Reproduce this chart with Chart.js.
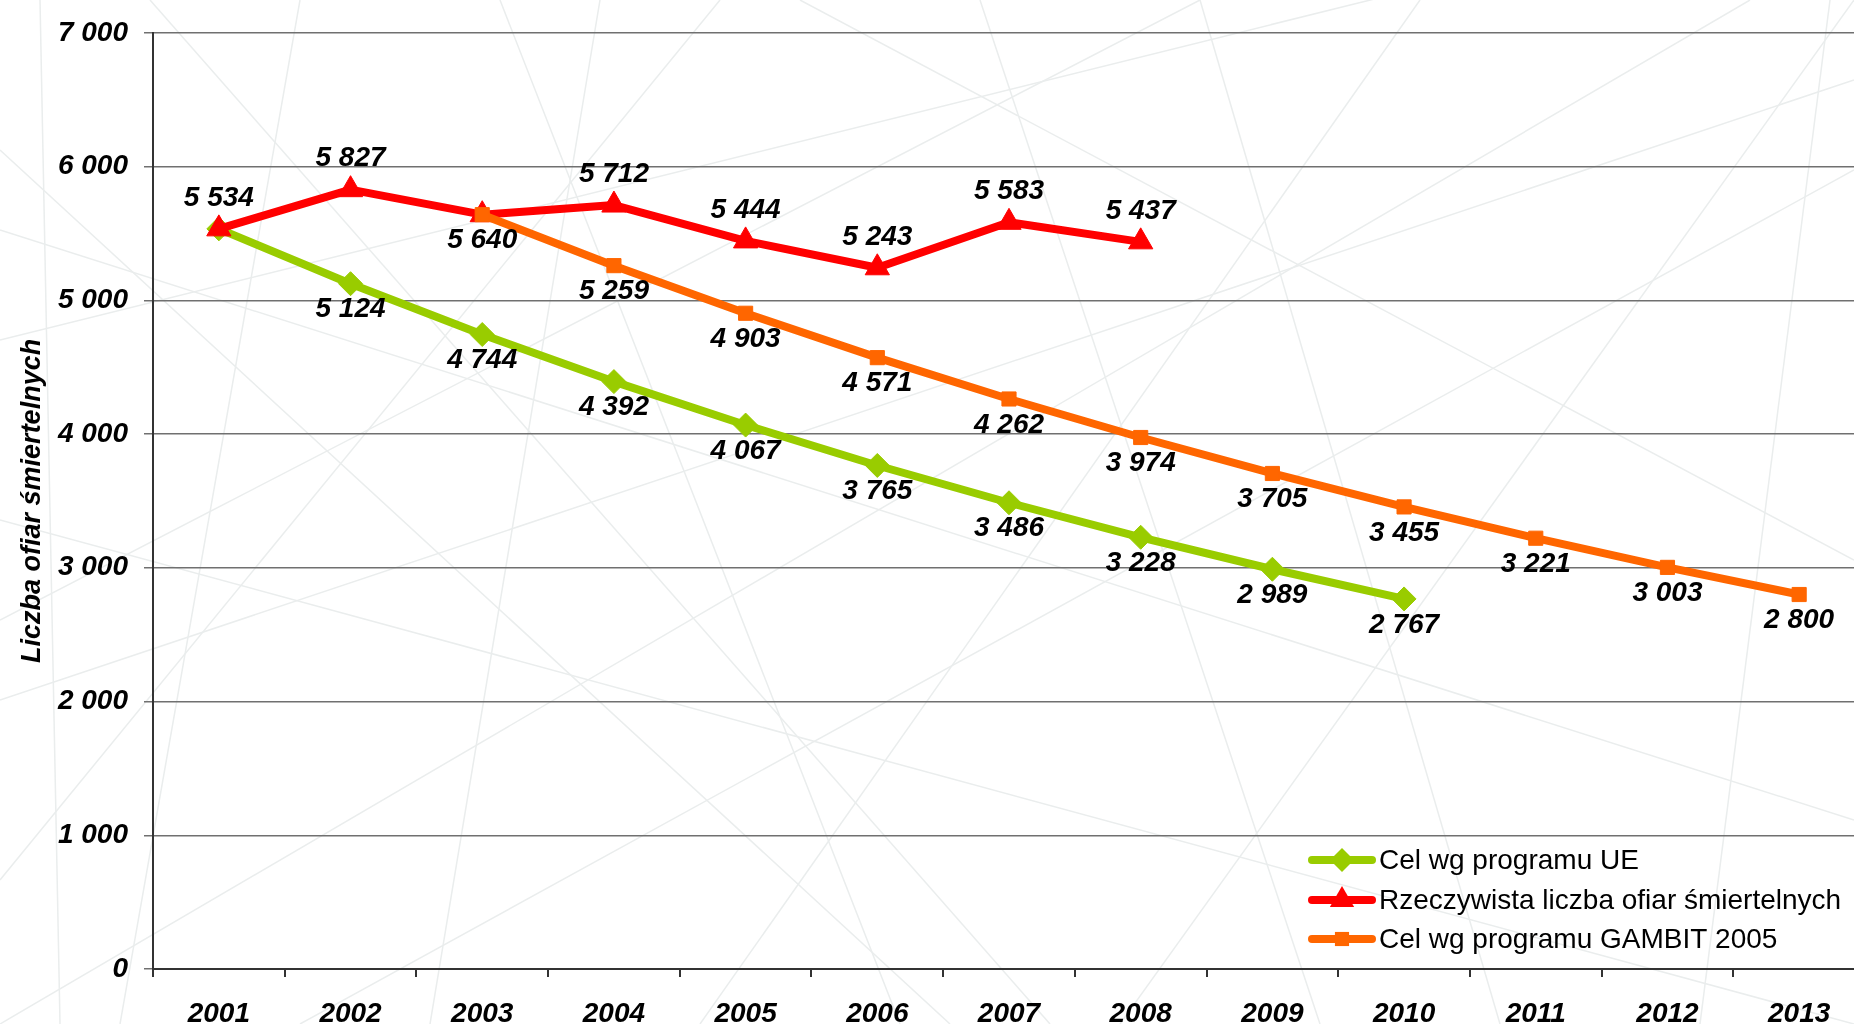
<!DOCTYPE html>
<html><head><meta charset="utf-8">
<script src="https://cdn.jsdelivr.net/npm/chart.js@4.4.0/dist/chart.umd.min.js"></script>
<style>
html,body{margin:0;padding:0;overflow:hidden;background:#fff;width:1854px;height:1024px;}
#wrap{position:relative;width:1880px;height:1024px;}
#bg{position:absolute;left:0;top:0;}
#c{position:absolute;left:0;top:0;}
</style></head><body>
<div id="wrap">
<svg id="bg" width="1854" height="1024" xmlns="http://www.w3.org/2000/svg">
<g stroke="#eaeded" stroke-width="1.5" fill="none">
<line x1="0" y1="340" x2="1854" y2="-120"/>
<line x1="0" y1="700" x2="1854" y2="80"/>
<line x1="0" y1="1024" x2="1750" y2="0"/>
<line x1="300" y1="1024" x2="1854" y2="170"/>
<line x1="0" y1="150" x2="950" y2="1024"/>
<line x1="150" y1="0" x2="1050" y2="1024"/>
<line x1="600" y1="0" x2="430" y2="1024"/>
<line x1="980" y1="0" x2="1320" y2="1024"/>
<line x1="1420" y1="0" x2="700" y2="1024"/>
<line x1="1854" y1="0" x2="1120" y2="1024"/>
<line x1="1830" y1="0" x2="1700" y2="1024"/>
<line x1="0" y1="520" x2="1854" y2="1024"/>
<line x1="0" y1="880" x2="720" y2="0"/>
<line x1="40" y1="0" x2="60" y2="1024"/>
<line x1="300" y1="0" x2="120" y2="1024"/>
<line x1="0" y1="230" x2="1854" y2="820"/>
<line x1="800" y1="0" x2="1854" y2="560"/>
<line x1="1200" y1="0" x2="1500" y2="1024"/>
<line x1="500" y1="0" x2="900" y2="1024"/>
<line x1="0" y1="620" x2="1200" y2="0"/>
</g>
</svg>
<canvas id="c" width="1880" height="1024"></canvas>
</div>
<script>
const years = ['2001','2002','2003','2004','2005','2006','2007','2008','2009','2010','2011','2012','2013'];
const celUE = [5534, 5124, 4744, 4392, 4067, 3765, 3486, 3228, 2989, 2767, null, null, null];
const rzeczywista = [5534, 5827, 5640, 5712, 5444, 5243, 5583, 5437, null, null, null, null, null];
const gambit = [null, null, 5640, 5259, 4903, 4571, 4262, 3974, 3705, 3455, 3221, 3003, 2800];
const seriesNames = ['Cel wg programu UE', 'Rzeczywista liczba ofiar śmiertelnych', 'Cel wg programu GAMBIT 2005'];
const yMin = 0, yMax = 7000, yStep = 1000;

const GREEN = '#99cc00', RED = '#ff0000', ORANGE = '#ff6600';
const FAM = '"Liberation Sans", Arial, sans-serif';
const BOLDIT = 'italic bold 28px ' + FAM;
const fmt = v => String(v).replace(/\B(?=(\d{3})+(?!\d))/g, ' ');

function marker(ctx, style, x, y, r, color) {
  ctx.fillStyle = color;
  ctx.beginPath();
  if (style === 'rectRot') {
    ctx.moveTo(x - r, y); ctx.lineTo(x, y - r); ctx.lineTo(x + r, y); ctx.lineTo(x, y + r);
  } else if (style === 'triangle') {
    const a = Math.PI * 2 / 3;
    for (let k = 0; k < 3; k++) {
      const px = x + Math.sin(k * a) * r, py = y - Math.cos(k * a) * r;
      k ? ctx.lineTo(px, py) : ctx.moveTo(px, py);
    }
  } else {
    const s = r * Math.SQRT1_2;
    ctx.rect(x - s, y - s, 2 * s, 2 * s);
  }
  ctx.closePath();
  ctx.fill();
}

const labelPlugin = {
  id: 'vlabels',
  afterDatasetsDraw(chart) {
    const ctx = chart.ctx;
    ctx.save();
    ctx.font = BOLDIT;
    ctx.fillStyle = '#000';
    ctx.textAlign = 'center';
    ctx.textBaseline = 'middle';
    chart.data.datasets.forEach((ds, i) => {
      const meta = chart.getDatasetMeta(i);
      meta.data.forEach((pt, j) => {
        const v = ds.data[j];
        if (v == null) return;
        if (ds.hideLabels && ds.hideLabels.includes(j)) return;
        const dy = ds.labelPos === 'above' ? -31 : 26;
        ctx.fillText(fmt(v), pt.x, pt.y + dy);
      });
    });
    ctx.restore();
  }
};

const legendPlugin = {
  id: 'customLegend',
  afterDraw(chart) {
    const ctx = chart.ctx;
    const ds = chart.data.datasets;
    const x0 = 1312, x1 = 1372, tx = 1379, rows = [860, 900, 939];
    ctx.save();
    ds.forEach((d, i) => {
      const y = rows[i];
      ctx.strokeStyle = d.borderColor;
      ctx.lineWidth = 8;
      ctx.lineCap = 'round';
      ctx.beginPath(); ctx.moveTo(x0, y); ctx.lineTo(x1, y); ctx.stroke();
      marker(ctx, d.pointStyle, (x0 + x1) / 2, y, d.pointRadius, d.borderColor);
      ctx.fillStyle = '#000';
      ctx.font = '28px ' + FAM;
      ctx.textAlign = 'left';
      ctx.textBaseline = 'middle';
      ctx.fillText(d.label, tx, y + 1);
    });
    ctx.restore();
  }
};

new Chart(document.getElementById('c'), {
  type: 'line',
  data: {
    labels: years,
    datasets: [
      { label: seriesNames[0], data: celUE, borderColor: GREEN, backgroundColor: GREEN,
        pointStyle: 'rectRot', pointRadius: 12, pointBackgroundColor: GREEN, pointBorderColor: GREEN, pointBorderWidth: 1,
        borderWidth: 8, order: 3, labelPos: 'below', hideLabels: [0] },
      { label: seriesNames[1], data: rzeczywista, borderColor: RED, backgroundColor: RED,
        pointStyle: 'triangle', pointRadius: 14, pointBackgroundColor: RED, pointBorderColor: RED, pointBorderWidth: 1,
        borderWidth: 8, order: 2, labelPos: 'above', hideLabels: [2] },
      { label: seriesNames[2], data: gambit, borderColor: ORANGE, backgroundColor: ORANGE,
        pointStyle: 'rect', pointRadius: 10, pointBackgroundColor: ORANGE, pointBorderColor: ORANGE, pointBorderWidth: 1,
        borderWidth: 8, order: 1, labelPos: 'below' }
    ]
  },
  options: {
    responsive: false,
    animation: false,
    devicePixelRatio: 1,
    layout: { padding: { top: 26, right: 7, bottom: 0, left: 0 } },
    elements: { line: { tension: 0, borderJoinStyle: 'round' } },
    plugins: { legend: { display: false }, tooltip: { enabled: false } },
    scales: {
      x: {
        type: 'category',
        offset: true,
        afterFit(s) { s.height = 55; },
        grid: { offset: true, drawOnChartArea: false, drawTicks: true, tickLength: 8, color: '#333', lineWidth: 2 },
        border: { display: true, color: '#333', width: 2 },
        ticks: { font: { family: FAM, size: 28, weight: 'bold', style: 'italic' }, color: '#000', padding: 20, maxRotation: 0, autoSkip: false }
      },
      y: {
        min: yMin, max: yMax,
        afterFit(s) { s.width = 153; },
        grid: { color: '#707070', lineWidth: 1.5, tickLength: 9, drawTicks: true },
        border: { display: true, color: '#333', width: 2 },
        ticks: { stepSize: yStep, padding: 16, color: '#000',
          font: { family: FAM, size: 28, weight: 'bold', style: 'italic' },
          callback: v => fmt(v) },
        title: { display: true, text: 'Liczba ofiar śmiertelnych', color: '#000', padding: { top: 16, bottom: 0 },
          font: { family: FAM, size: 27, weight: 'bold', style: 'italic' } }
      }
    }
  },
  plugins: [labelPlugin, legendPlugin]
});
</script>
</body></html>
